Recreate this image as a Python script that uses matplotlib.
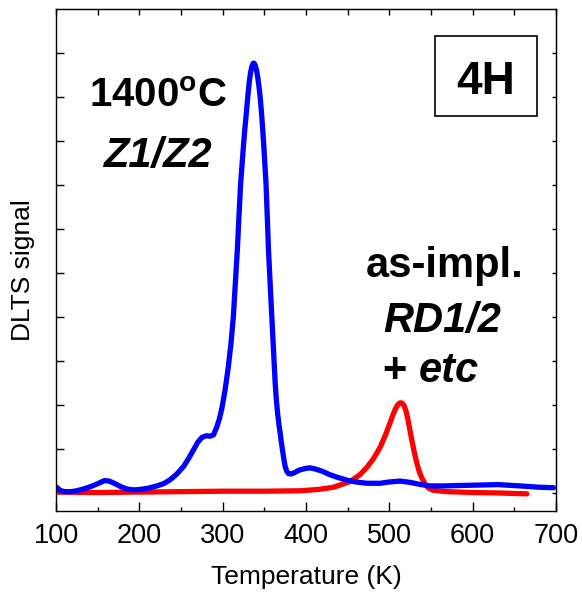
import matplotlib
matplotlib.use("Agg")
import matplotlib.pyplot as plt
from matplotlib.patches import Rectangle

plt.rcParams['font.family'] = ['Liberation Sans', 'DejaVu Sans']
plt.rcParams['mathtext.fontset'] = 'custom'
plt.rcParams['mathtext.rm'] = 'Liberation Sans'
plt.rcParams['mathtext.bf'] = 'Liberation Sans:bold'

# DLTS spectrum after 1400 C anneal (Z1/Z2 peak)
t_annealed = [100, 105, 110, 118, 125, 133, 141, 150, 158, 164, 171, 178, 185,
              193, 201, 211, 221, 229, 237, 245, 253, 259, 265, 270, 275, 280,
              285, 289, 293, 296, 299, 303, 306.8, 310, 312.8, 315, 317.6,
              319.6, 321.6, 323.5, 325, 326.5, 328, 330, 332, 333.5, 335, 336,
              337, 338, 339, 340.5, 342, 343.5, 345, 347, 349.5, 352, 353.5,
              355, 357, 359, 361, 363, 364.5, 366, 367.5, 369, 370.5, 372,
              373.5, 375, 377, 379, 382, 386, 392, 400, 405, 412, 420, 428,
              437, 449, 460, 473, 489, 500, 513, 525, 538, 549, 565, 585, 609,
              630, 657, 680, 697]
s_annealed = [0.14, 0.06, 0.03, 0.03, 0.05, 0.09, 0.14, 0.21, 0.28, 0.27, 0.21,
              0.14, 0.09, 0.07, 0.08, 0.11, 0.16, 0.21, 0.30, 0.43, 0.60, 0.78,
              0.98, 1.15, 1.26, 1.30, 1.29, 1.32, 1.50, 1.68, 1.92, 2.35, 2.87,
              3.40, 4.00, 4.70, 5.52, 6.30, 7.04, 7.52, 7.90, 8.25, 8.55, 8.98,
              9.35, 9.56, 9.69, 9.74, 9.77, 9.76, 9.72, 9.62, 9.46, 9.25, 9.00,
              8.55, 7.85, 7.04, 6.30, 5.52, 4.75, 4.00, 3.25, 2.50, 2.10, 1.80,
              1.56, 1.36, 1.14, 0.95, 0.76, 0.60, 0.49, 0.44, 0.43, 0.46, 0.52,
              0.56, 0.57, 0.54, 0.49, 0.42, 0.36, 0.29, 0.25, 0.22, 0.22, 0.25,
              0.27, 0.24, 0.19, 0.16, 0.16, 0.17, 0.18, 0.19, 0.16, 0.13, 0.12]

# as-implanted spectrum (RD1/2 peak)
t_implanted = [100, 150, 200, 250, 300, 350, 393, 415, 433, 453, 465, 473, 481,
               489, 495, 501, 504, 507, 510, 512, 514, 516, 518, 520, 522, 524,
               527, 530, 533, 536, 539, 543, 547, 553, 569, 600, 630, 665]
s_implanted = [0.02, 0.01, 0.02, 0.03, 0.04, 0.04, 0.05, 0.08, 0.13, 0.26, 0.42,
               0.58, 0.78, 1.04, 1.30, 1.60, 1.76, 1.90, 2.00, 2.04, 2.05, 2.03,
               1.97, 1.86, 1.70, 1.50, 1.20, 0.92, 0.68, 0.48, 0.34, 0.20, 0.11,
               0.06, 0.03, 0.01, 0.00, -0.02]

x_major = [100, 200, 300, 400, 500, 600, 700]
x_minor = [150, 250, 350, 450, 550, 650]
y_ticks = list(range(0, 11))

fig = plt.figure(figsize=(5.82, 5.92), dpi=100)
ax = fig.add_axes([56 / 582, 1 - 511 / 592, 500 / 582, 502 / 592])

ax.plot(t_implanted, s_implanted, color='#ff0000', lw=3.8,
        solid_capstyle='round', solid_joinstyle='round')
ax.plot(t_annealed, s_annealed, color='#0000ff', lw=3.8,
        solid_capstyle='round', solid_joinstyle='round')

ax.set_xlim(100, 700)
ax.set_ylim(-0.41, 11)

ax.set_xticks(x_major)
ax.set_xticks(x_minor, minor=True)
ax.set_yticks(y_ticks)
ax.set_yticklabels([])
ax.tick_params(axis='x', which='major', direction='in', length=6.5, width=1,
               labelsize=19.5, pad=8.5)
ax.tick_params(axis='x', which='minor', direction='in', length=3, width=1)
ax.tick_params(axis='y', direction='in', length=6, width=1)
for sp in ax.spines.values():
    sp.set_linewidth(1)

top = ax.secondary_xaxis('top')
top.set_xticks(x_major + x_minor)
top.set_xticklabels([])
top.tick_params(direction='in', length=4, width=1)
right = ax.secondary_yaxis('right')
right.set_yticks(y_ticks)
right.set_yticklabels([])
right.tick_params(direction='in', length=3, width=1)

ax.set_xlabel('Temperature (K)', fontsize=19, labelpad=12)
ax.set_ylabel('DLTS signal', fontsize=19)
ax.yaxis.set_label_coords(-0.042, 0.48)

ax.text(0.204, 0.8047, r'$\mathbf{1400^{o}C}$', transform=ax.transAxes,
        fontsize=29, ha='center', va='baseline')
ax.text(0.205, 0.6859, 'Z1/Z2', transform=ax.transAxes, fontsize=30,
        fontweight='bold', fontstyle='italic', ha='center', va='baseline')

ax.add_patch(Rectangle((0.758, 0.787), 0.204, 0.159, transform=ax.transAxes,
                       fill=False, lw=1.2, ec='black'))
ax.text(0.859, 0.8307, '4H', transform=ax.transAxes, fontsize=33,
        fontweight='bold', ha='center', va='baseline')

ax.text(0.778, 0.4667, 'as-impl.', transform=ax.transAxes, fontsize=30,
        fontweight='bold', ha='center', va='baseline')
ax.text(0.772, 0.3572, 'RD1/2', transform=ax.transAxes, fontsize=30,
        fontweight='bold', fontstyle='italic', ha='center', va='baseline')
ax.text(0.653, 0.2576, '+', transform=ax.transAxes, fontsize=30,
        fontweight='bold', ha='left', va='baseline')
ax.text(0.846, 0.2576, 'etc', transform=ax.transAxes, fontsize=30,
        fontweight='bold', fontstyle='italic', ha='right', va='baseline')

fig.savefig('out.png', dpi=100)
